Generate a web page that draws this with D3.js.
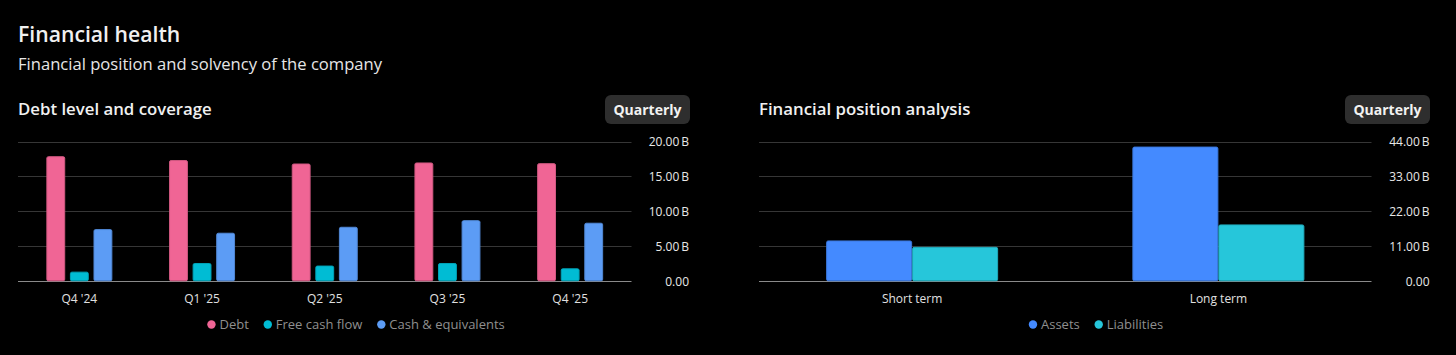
<!DOCTYPE html>
<html>
<head>
<meta charset="utf-8">
<script src="https://cdn.jsdelivr.net/npm/d3@7"></script>
<style>
html,body{margin:0;padding:0;background:#000;}
svg{display:block;}
text{font-family:"Open Sans","Noto Sans",sans-serif;}
</style>
</head>
<body>
<svg id="chart" width="1456" height="355"></svg>
<script>
// ---- data ----
const quarters = ["Q4 '24","Q1 '25","Q2 '25","Q3 '25","Q4 '25"];
const debt = [17.9, 17.35, 16.85, 17.0, 16.9];
const freeCashFlow = [1.38, 2.62, 2.25, 2.62, 1.86];
const cashEquivalents = [7.47, 6.95, 7.8, 8.75, 8.38];
const debtSeriesNames = ["Debt","Free cash flow","Cash & equivalents"];
const debtTicks = [0,5,10,15,20];

const terms = ["Short term","Long term"];
const assets = [12.86, 42.4];
const liabilities = [10.84, 17.9];
const positionSeriesNames = ["Assets","Liabilities"];
const positionTicks = [0,11,22,33,44];

const svg = d3.select("#chart");
svg.append("rect").attr("width",1456).attr("height",355).attr("fill","#000");

// headers
svg.append("text").attr("x",18).attr("y",42).attr("fill","#f0f0f0")
  .attr("font-size",21.2).attr("font-weight",600).text("Financial health");
svg.append("text").attr("x",18).attr("y",70).attr("fill","#e6e6e6")
  .attr("font-size",16.6).text("Financial position and solvency of the company");

function fmt(v){ return v===0 ? "0.00" : d3.format(".2f")(v)+"\u2009B"; }

function panel(opt){
  const g = svg.append("g");
  g.append("text").attr("x",opt.x0).attr("y",114.5).attr("fill","#f0f0f0")
    .attr("font-size",16.8).attr("font-weight",600).text(opt.title);
  // button
  g.append("rect").attr("x",opt.btnX).attr("y",95).attr("width",85).attr("height",29)
    .attr("rx",6).attr("fill","#2e2e2e");
  g.append("text").attr("x",opt.btnX+42.5).attr("y",115).attr("text-anchor","middle")
    .attr("fill","#f2f2f2").attr("font-size",14).attr("font-weight",700).text("Quarterly");

  const y = d3.scaleLinear().domain([0,opt.max]).range([281.3,141.5]);
  const x0 = d3.scaleBand().domain(opt.cats).range([opt.x0,opt.x1]).paddingInner(0).paddingOuter(0);
  const groupW = opt.groupW;
  const x1 = d3.scaleBand().domain(d3.range(opt.series.length))
    .range([(x0.bandwidth()-groupW)/2,(x0.bandwidth()+groupW)/2]).paddingInner(opt.innerPad);

  // grid
  g.selectAll("line.grid").data(opt.ticks).join("line")
    .attr("x1",opt.x0).attr("x2",opt.x1)
    .attr("y1",d=>Math.round(y(d))+0.5).attr("y2",d=>Math.round(y(d))+0.5)
    .attr("stroke",d=>d===0?"#8a8a8a":"#363636").attr("stroke-width",1);
  // y labels
  const yAxis = d3.axisRight(y).tickValues(opt.ticks).tickFormat(fmt).tickSize(0);
  const ya = g.append("g").attr("transform",`translate(${opt.labelX},0)`).call(yAxis);
  ya.select(".domain").remove();
  ya.selectAll("text").attr("x",0).attr("text-anchor","end").attr("fill","#e8e8e8")
    .attr("font-size",12).attr("font-family","'DejaVu Sans Condensed','Open Sans',sans-serif");

  // bars
  opt.cats.forEach((c,i)=>{
    const gg = g.append("g").attr("transform",`translate(${x0(c)},0)`);
    gg.selectAll("rect").data(opt.series).join("rect")
      .attr("x",(s,j)=>x1(j)+0.5).attr("width",x1.bandwidth()-1)
      .attr("y",s=>y(s.values[i])+0.5).attr("height",s=>y(0)-y(s.values[i])-1)
      .attr("rx",1.5)
      .attr("fill",s=>s.color).attr("stroke",s=>d3.color(s.color).darker(0.4)).attr("stroke-width",1);
  });
  // x labels
  const xAxis = d3.axisBottom(x0).tickSize(0);
  const xa = g.append("g").attr("transform","translate(0,291)").call(xAxis);
  xa.select(".domain").remove();
  xa.selectAll("text").attr("fill","#e0e0e0").attr("font-size",12).attr("dy","0.71em")
    .attr("font-family","'DejaVu Sans Condensed','Open Sans',sans-serif");

  // legend
  const lg = g.append("g");
  let lx = opt.legendX;
  opt.series.forEach(s=>{
    lg.append("circle").attr("cx",lx+4).attr("cy",324.5).attr("r",4.2).attr("fill",s.color);
    const t = lg.append("text").attr("x",lx+12).attr("y",329).attr("fill","#8f8f8f")
      .attr("font-size",13).text(s.name);
    lx += 12 + t.node().getComputedTextLength() + 15;
  });
  const bb = lg.node().getBBox();
  lg.attr("transform",`translate(${opt.legendCenter - (bb.x+bb.width/2)},0)`);
}

const debtColors = ["#f06595","#00bcd4","#5c9cf5"];
panel({
  title:"Debt level and coverage", x0:18, x1:631.5, labelX:689, btnX:605,
  cats:quarters, max:20, ticks:debtTicks, groupW:66, innerPad:0.2,
  series:[debt,freeCashFlow,cashEquivalents].map((v,i)=>({name:debtSeriesNames[i],values:v,color:debtColors[i]})),
  legendX:0, legendCenter:356
});
const posColors = ["#448aff","#26c6da"];
panel({
  title:"Financial position analysis", x0:759, x1:1371.5, labelX:1429.5, btnX:1345,
  cats:terms, max:44, ticks:positionTicks, groupW:172, innerPad:0,
  series:[assets,liabilities].map((v,i)=>({name:positionSeriesNames[i],values:v,color:posColors[i]})),
  legendX:0, legendCenter:1096
});
</script>
</body>
</html>
